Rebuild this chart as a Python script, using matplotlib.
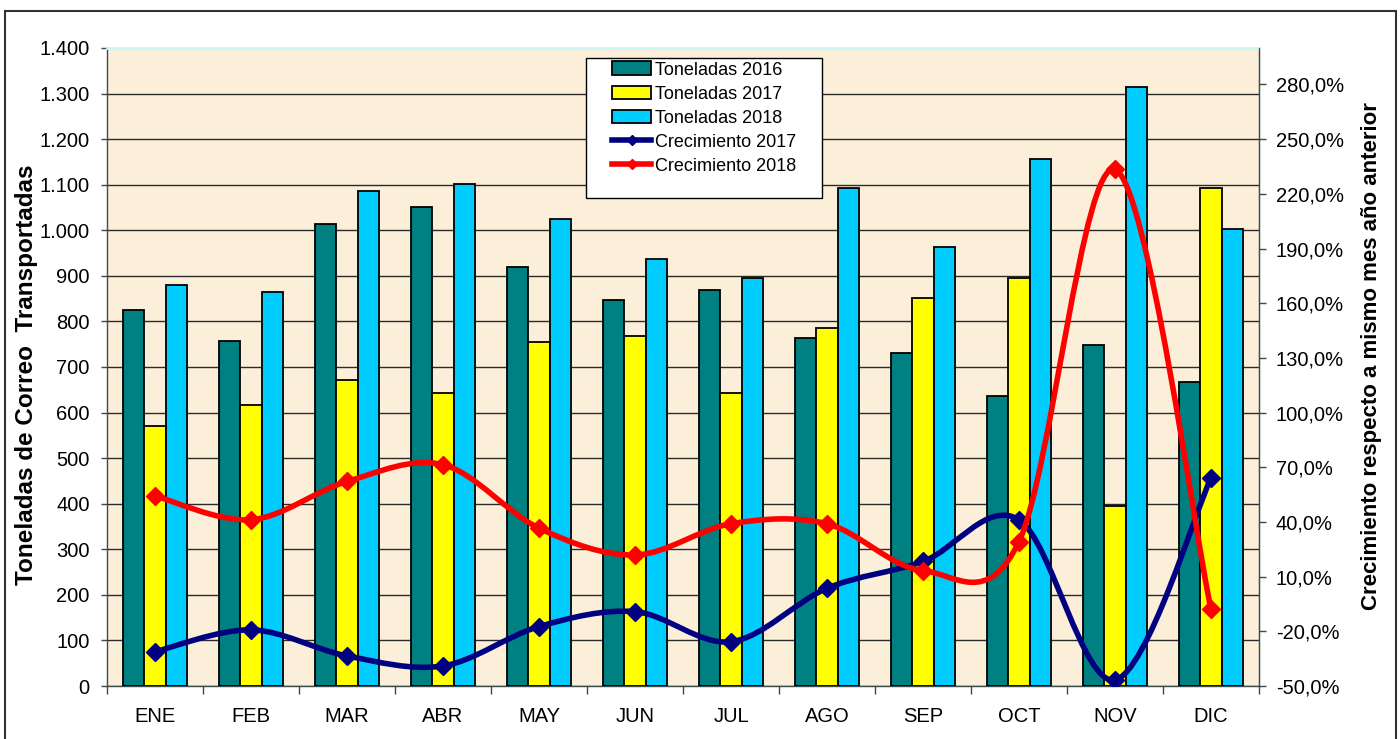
import numpy as np
import matplotlib
matplotlib.use('Agg')
import matplotlib.pyplot as plt
from matplotlib.path import Path
from matplotlib.patches import PathPatch, Rectangle
from matplotlib.lines import Line2D
from matplotlib.ticker import FuncFormatter, FixedLocator

plt.rcParams['font.family'] = ['Liberation Sans', 'DejaVu Sans']

months = ['ENE', 'FEB', 'MAR', 'ABR', 'MAY', 'JUN', 'JUL', 'AGO', 'SEP', 'OCT', 'NOV', 'DIC']
ton_2016 = [824, 758, 1014, 1051, 920, 847, 868, 763, 731, 636, 748, 668]
ton_2017 = [571, 617, 671, 642, 754, 768, 644, 786, 852, 895, 395, 1092]
ton_2018 = [881, 865, 1087, 1101, 1024, 936, 895, 1092, 963, 1156, 1315, 1003]
crec_2017 = [-31.2, -19.2, -33.5, -39.0, -17.4, -9.2, -25.7, 3.6, 18.3, 41.2, -46.7, 64.1]
crec_2018 = [54.3, 41.2, 62.2, 71.4, 36.6, 21.9, 39.0, 39.0, 13.3, 29.2, 233.4, -7.9]

left_ticks = list(range(0, 1401, 100))
right_ticks = list(range(-50, 281, 30))

C16, C17, C18 = '#008080', '#FFFF00', '#00CCFF'
CL17, CL18 = '#000080', '#FF0000'


def smooth_path(x, y, t=1.0 / 6.0):
    pts = np.column_stack([x, y]).astype(float)
    n = len(pts)
    verts = [pts[0]]
    codes = [Path.MOVETO]
    for i in range(n - 1):
        p0 = pts[i - 1] if i > 0 else pts[i]
        p1 = pts[i]
        p2 = pts[i + 1]
        p3 = pts[i + 2] if i + 2 < n else pts[i + 1]
        c1 = p1 + (p2 - p0) * t
        c2 = p2 - (p3 - p1) * t
        verts += [c1, c2, p2]
        codes += [Path.CURVE4] * 3
    return Path(verts, codes)


fig = plt.figure(figsize=(14, 7.39), dpi=100)
ax = fig.add_axes([107 / 1400, 1 - 686 / 739, 1152 / 1400, 638 / 739])
ax.set_facecolor('#FBEFDA')

x = np.arange(len(months))
w = 0.225
ax.bar(x - w, ton_2016, w, color=C16, edgecolor='black', linewidth=1.3, zorder=3)
ax.bar(x, ton_2017, w, color=C17, edgecolor='black', linewidth=1.3, zorder=3)
ax.bar(x + w, ton_2018, w, color=C18, edgecolor='black', linewidth=1.3, zorder=3)

ax.set_xlim(-0.5, len(months) - 0.5)
ax.set_ylim(0, 1400)
ax.yaxis.set_major_locator(FixedLocator(left_ticks))
ax.yaxis.set_major_formatter(FuncFormatter(lambda v, p: f'{v:,.0f}'.replace(',', '.')))
ax.yaxis.grid(True, color='#2a2a2a', linewidth=1.0)
ax.set_axisbelow(True)

ax.xaxis.set_major_locator(FixedLocator(np.arange(-0.5, len(months), 1.0)))
ax.xaxis.set_minor_locator(FixedLocator(x))
ax.set_xticklabels([], minor=False)
ax.set_xticklabels(months, minor=True)
ax.tick_params(axis='x', which='major', direction='out', length=5.5, width=1, color='#444444')
ax.tick_params(axis='x', which='minor', length=0, pad=15, labelsize=14.5)
ax.tick_params(axis='y', direction='out', length=4.5, width=1, pad=8, labelsize=14.5, color='#444444')

for s in ['left', 'bottom', 'right']:
    ax.spines[s].set_color('#3c4c4c')
    ax.spines[s].set_linewidth(1.0)
ax.spines['top'].set_color('#C8F8F8')
ax.spines['top'].set_linewidth(2)

ax2 = ax.twinx()
ax2.set_ylim(-50, 300)
ax2.yaxis.set_major_locator(FixedLocator(right_ticks))
ax2.yaxis.set_major_formatter(FuncFormatter(lambda v, p: f'{v:.1f}%'.replace('.', ',')))
ax2.tick_params(axis='y', direction='out', length=5, width=1, pad=7, labelsize=14.5, color='#444444')
for s in ['left', 'bottom', 'top']:
    ax2.spines[s].set_visible(False)
ax2.spines['right'].set_color('#3c4c4c')

ax2.add_patch(PathPatch(smooth_path(x, crec_2017), fill=False, edgecolor=CL17, linewidth=4, zorder=2,
                        capstyle='round', joinstyle='round'))
ax2.plot(x, crec_2017, linestyle='none', marker='D', markersize=9, color=CL17, zorder=3)
ax2.add_patch(PathPatch(smooth_path(x, crec_2018), fill=False, edgecolor=CL18, linewidth=4, zorder=4,
                        capstyle='round', joinstyle='round'))
ax2.plot(x, crec_2018, linestyle='none', marker='D', markersize=9, color=CL18, zorder=5)

# legend
ax2.add_patch(Rectangle((479 / 1152, 488 / 638), 236 / 1152, 140 / 638, transform=ax2.transAxes,
                        facecolor='white', edgecolor='black', linewidth=1.0, zorder=8))
handles = [
    Rectangle((0, 0), 1, 1, facecolor=C16, edgecolor='black', linewidth=1.3),
    Rectangle((0, 0), 1, 1, facecolor=C17, edgecolor='black', linewidth=1.3),
    Rectangle((0, 0), 1, 1, facecolor=C18, edgecolor='black', linewidth=1.3),
    Line2D([], [], color=CL17, linewidth=4, marker='D', markersize=5),
    Line2D([], [], color=CL18, linewidth=4, marker='D', markersize=5),
]
labels = ['Toneladas 2016', 'Toneladas 2017', 'Toneladas 2018', 'Crecimiento 2017', 'Crecimiento 2018']
leg = ax2.legend(handles, labels, loc='upper left', bbox_to_anchor=((611.7 - 107) / 1152, (686 - 61.5) / 638),
                 frameon=False, borderpad=0, borderaxespad=0, fontsize=13, handlelength=2.2,
                 handleheight=0.78, handletextpad=0.22, labelspacing=0.39, numpoints=1)
leg.set_zorder(9)

fig.text(27 / 1400, 1 - 375 / 739, 'Toneladas de Correo  Transportadas', rotation=90,
         ha='center', va='center', fontsize=17.5, fontweight='bold')
fig.text(1372 / 1400, 1 - 356 / 739, 'Crecimiento respecto a mismo mes año anterior', rotation=90,
         ha='center', va='center', fontsize=16, fontweight='bold')

fig.add_artist(Rectangle((5 / 1400, -0.05), 1391 / 1400, 1 - 11 / 739 + 0.05, transform=fig.transFigure,
                         fill=False, edgecolor='#333333', linewidth=1.5))

fig.savefig('out.png', dpi=100)
